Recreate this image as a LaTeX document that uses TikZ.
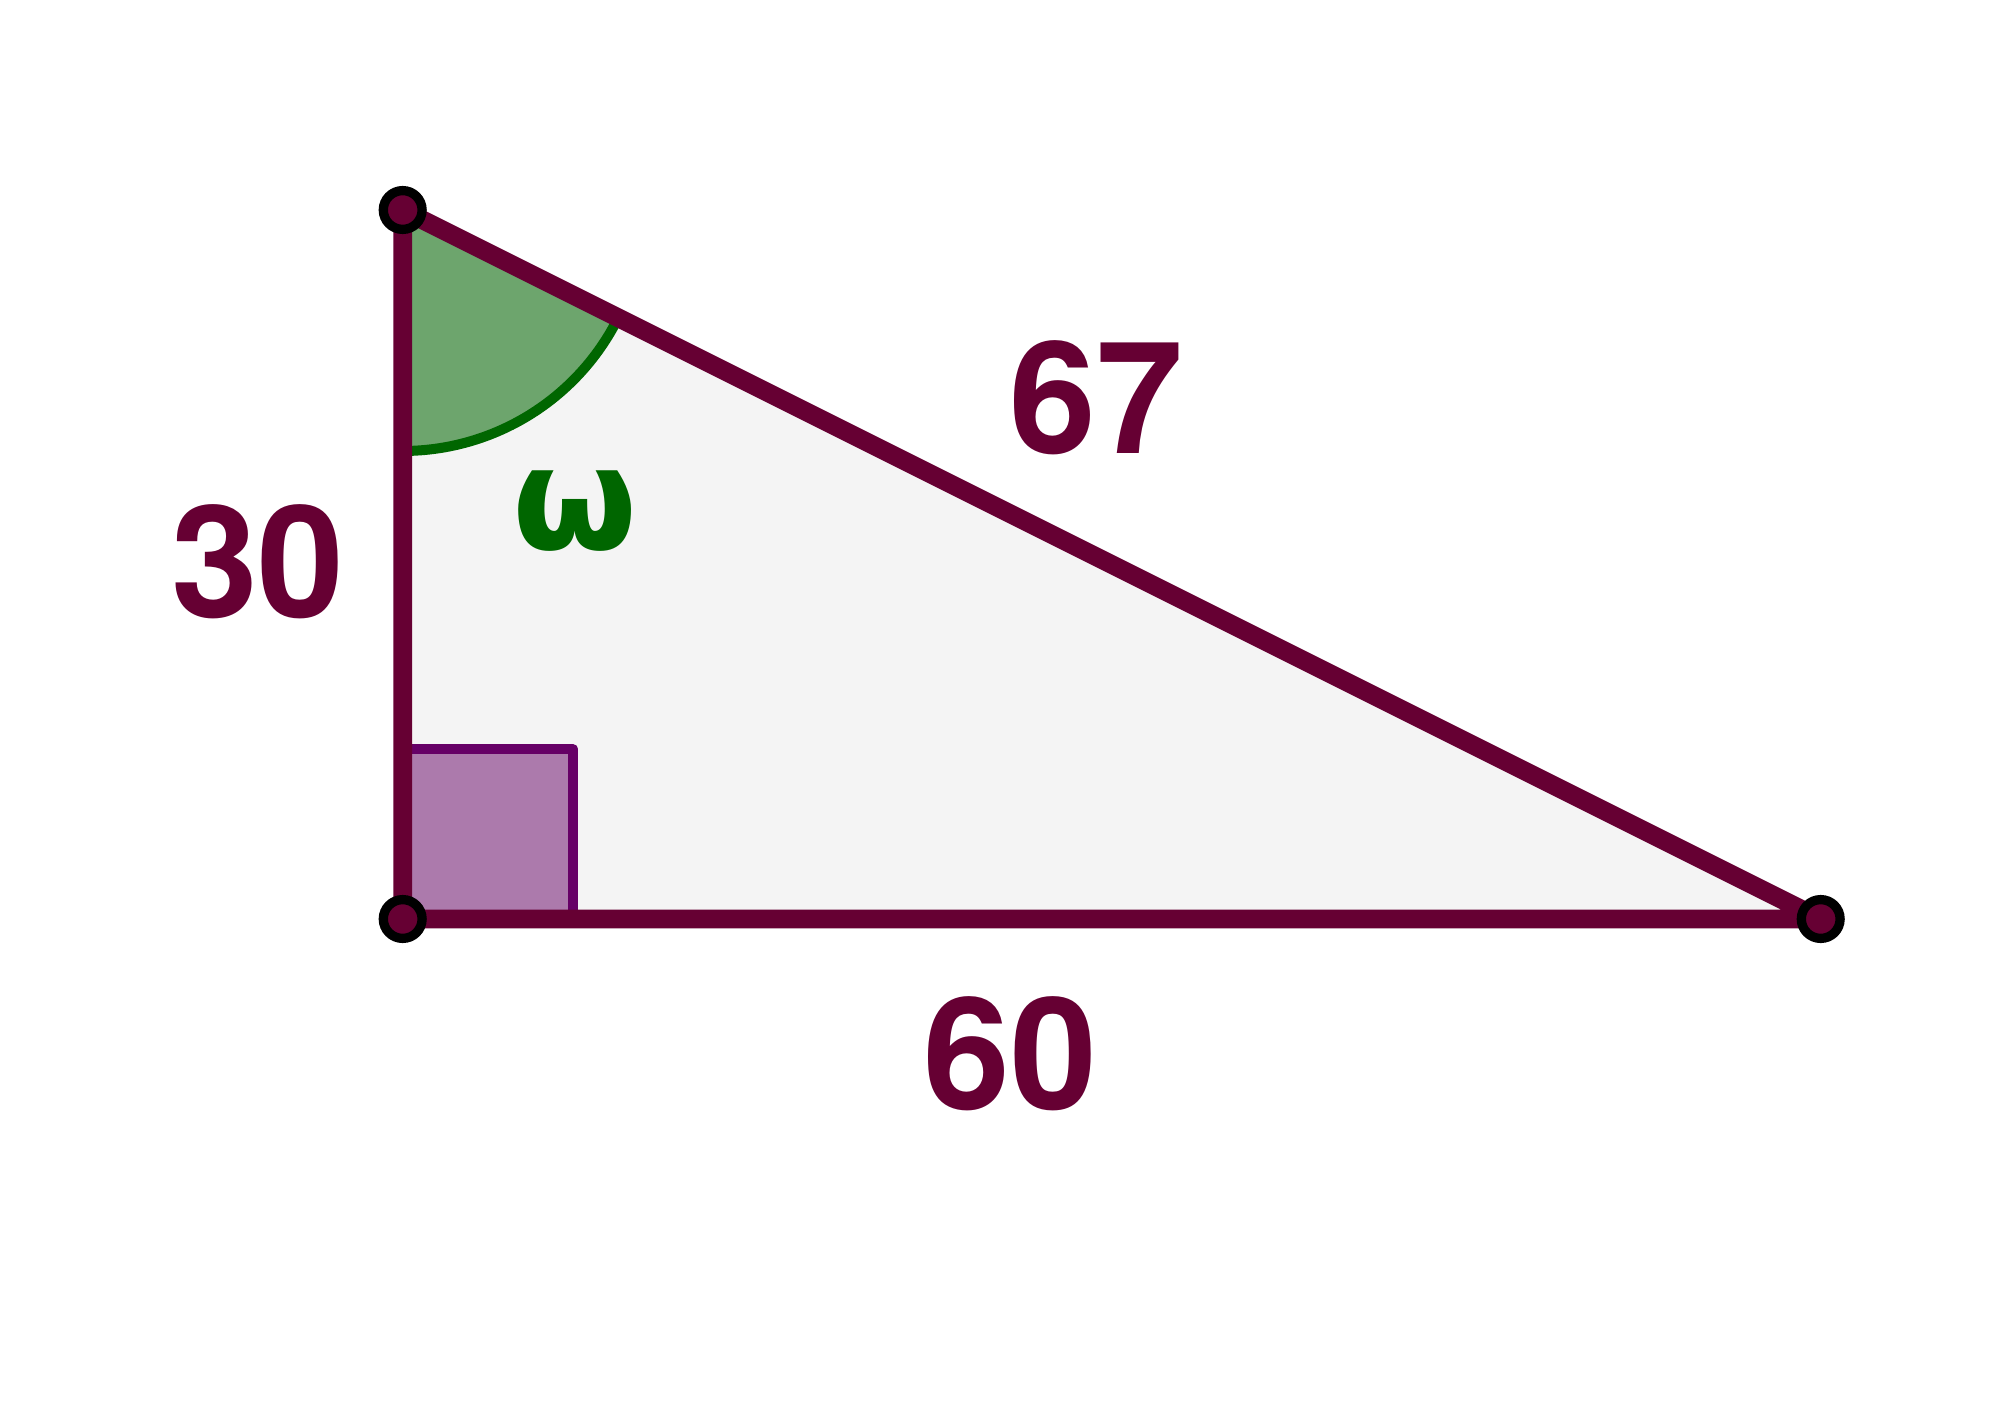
\documentclass[tikz,border=0pt]{standalone}
\usepackage{fontspec}
\setmainfont{TeX Gyre Heros}
\newfontfamily\omegafont{DejaVu Sans}
\usetikzlibrary{calc}
\definecolor{segc}{HTML}{660033}
\definecolor{trifill}{HTML}{F4F4F4}
\definecolor{angfill}{HTML}{6DA56D}
\definecolor{angline}{HTML}{006600}
\definecolor{sqfill}{HTML}{AC7AAC}
\definecolor{sqline}{HTML}{660066}
\tikzset{
  seg/.style={draw=segc, line width=9.35pt, line join=round},
  vpoint/.style={circle, fill=segc, draw=black, line width=4.65pt, minimum size=19.4pt, inner sep=0pt},
  lbl/.style={font=\fontsize{78}{78}\selectfont\bfseries, text=segc, inner sep=0pt, anchor=base},
  anglbl/.style={font=\omegafont\fontsize{72}{72}\selectfont\bfseries, text=angline, inner sep=0pt, anchor=base}
}
\begin{document}
\begin{tikzpicture}[x=0.5pt,y=0.5pt]
\useasboundingbox (0,0) rectangle (2012,1405);
\coordinate (A) at (402.7,1195);
\coordinate (B) at (402.7,486);
\coordinate (C) at (1820.7,486);
% triangle fill
\fill[trifill] (A) -- (B) -- (C) -- cycle;
% angle
\fill[angfill] (A) -- ++(-90:241) arc[start angle=-90, end angle=-26.565, radius=241] -- cycle;
\draw[angline, line width=5pt] ($(A)+(-90:241)$) arc[start angle=-90, end angle=-26.565, radius=241];
% right angle mark
\filldraw[fill=sqfill, draw=sqline, line width=5pt, line join=round] (B) rectangle ($(B)+(170.6,169.7)$);
% sides
\draw[seg] (A) -- (B) -- (C) -- cycle;
% points
\node[vpoint] (pA) at (A) {};
\node[vpoint] (pB) at (B) {};
\node[vpoint] (pC) at (C) {};
% labels
\node[lbl] (l67) at (1096.4,951) {67};
\node[lbl] (l30) at (257.8,787) {30};
\node[lbl] (l60) at (1010.4,296) {60};
\node[anglbl] (lw) at (575,855) {ω};
\end{tikzpicture}
\end{document}
